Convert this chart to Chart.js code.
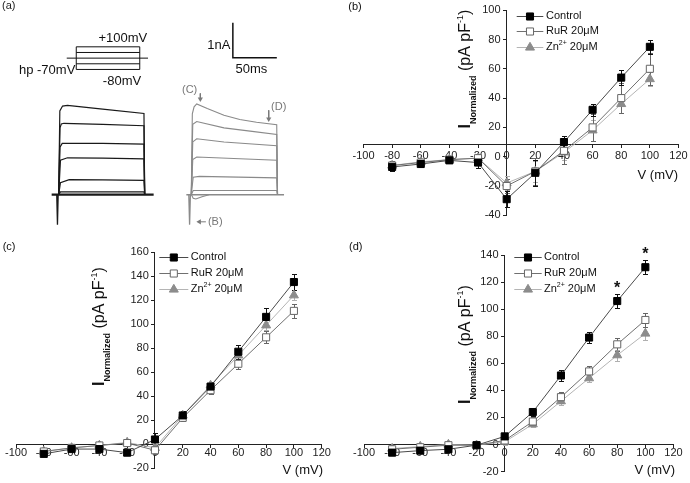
<!DOCTYPE html>
<html><head><meta charset="utf-8">
<script src="https://cdn.jsdelivr.net/npm/chart.js@4.4.0/dist/chart.umd.min.js"></script>
<style>
html,body{margin:0;padding:0;background:#fff;width:690px;height:483px;overflow:hidden}
canvas{position:absolute}
</style></head><body>
<canvas id="ca" width="345" height="240" style="left:0;top:0"></canvas>
<canvas id="cb" width="345" height="240" style="left:345px;top:0"></canvas>
<canvas id="cc" width="345" height="243" style="left:0;top:240px"></canvas>
<canvas id="cd" width="345" height="243" style="left:345px;top:240px"></canvas>
<script>
const FONT = "'Liberation Sans', Arial, sans-serif";

// ---------- I-V data ----------
const voltages = [-80, -60, -40, -20, 0, 20, 40, 60, 80, 100];
const seriesNames = ['Control', 'RuR 20\u03bcM', 'Zn'];
const znLabelParts = ['Zn', '2+', ' 20\u03bcM'];

const bControl = [-7, -5, -2.5, -4, -29, -11, 10, 32, 54, 75];
const bControlErr = [3, 2, 2, 3.5, 5.5, 9, 4, 4, 5, 5];
const bRuR = [-6, -4, -2, -1, -20, -10, 4, 20, 40, 60];
const bRuRErr = [3, 2, 2, 3, 5, 9, 9, 9, 10, 11];
const bZn = [-6, -3.5, -2, -1, -18, -10, 3, 18, 36, 53];
const bZnErr = [2, 2, 2, 2, 5, 7, 5, 7, 6, 5];

const cControl = [-8, -4, -4, -7, 4, 24, 48, 77, 106, 135];
const cControlErr = [2, 2, 2, 2, 5, 4, 4, 6, 7, 7];
const cRuR = [-6, -3, -1, 1, -5, 22, 45, 67, 89, 111];
const cRuRErr = [2, 2, 2, 2, 3, 3, 3, 4, 5, 6];
const cZn = [-6, -3, -1, 1.5, -3, 24, 49, 74, 99, 124];
const cZnErr = [2, 2, 2, 2, 3, 3, 3, 4, 4, 4];

const dControl = [-6, -4.5, -3.5, -0.5, 6, 24, 51, 79, 106, 131];
const dControlErr = [2, 2, 2, 1, 2, 3, 4, 4, 5, 5];
const dRuR = [-3.5, -2, -0.5, -0.5, 3, 17, 35, 54, 74, 92];
const dRuRErr = [2, 2, 2, 1, 2, 3, 4, 4, 5, 5];
const dZn = [-3, -1.5, 0, -0.5, 2, 15, 32, 49, 66, 82];
const dZnErr = [2, 2, 2, 1, 2, 2, 3, 3, 4, 4.5];
const dSignificant = [80, 100];

// ---------- panel (a) traces: [time ms, current nA] ----------
const leftTraces = [
  [[0,0],[1.3,2.38],[4.4,2.52],[10,2.54],[50,2.43],[97,2.31],[97.8,0]],
  [[0,0],[1.5,1.9],[3,2.01],[6,2.03],[50,2.0],[97,1.96],[97.8,0]],
  [[0,0],[1.5,1.35],[4,1.46],[50,1.46],[97,1.44],[97.8,0]],
  [[0,0],[2,0.98],[10,1.05],[50,1.04],[97,1.02],[97.8,0]],
  [[0,0],[2,0.34],[12,0.43],[50,0.42],[97,0.41],[97.8,0]],
  [[0,0],[2,0.08],[97,0.08],[97.8,0]]
];
const leftBaseline = [[-8,0],[108,0]];
const leftSpike = [[-2.2,0],[-1.4,-0.85],[-0.6,0]];
const rightTraces = [
  [[150.8,0],[152,2.3],[154,2.5],[157,2.58],[169,2.45],[188,2.26],[206,2.14],[225,2.06],[248,1.99],[248.9,0]],
  [[150.8,0],[152.5,2.0],[157,2.08],[188,1.9],[220,1.8],[248,1.71],[248.9,0]],
  [[150.8,0],[152.5,1.5],[157,1.59],[188,1.5],[248,1.39],[248.9,0]],
  [[150.8,0],[152.5,1.0],[157,1.07],[248,0.98],[248.9,0]],
  [[150.8,0],[153,0.5],[160,0.52],[248,0.48],[248.9,0]],
  [[150.8,0],[153,0.12],[248,0.12],[248.9,0]],
  [[151,0],[153,-0.1],[156,-0.12],[163,-0.06],[171,0]]
];
const rightBaseline = [[145.2,0],[256.3,0]];
const rightSpike = [[148,0],[148.9,-0.85],[149.8,0]];
const scaleBar = [[248.1,3.89],[198.1,3.89],[198.1,4.89]]; // 50 ms, 1 nA
const arrowC = [[161.1,2.88],[161.1,2.72]];
const arrowD = [[238.9,2.40],[238.9,2.15]];
const arrowB = [[167.4,-0.77],[160.0,-0.77]];

// voltage protocol (schematic): levels in mV, pulse in ms
const protocolLevels = [100, 55, 10, -35, -80];
const protocolPulse = [0, 100];
const holdingLevel = 10;
const holdingSpan = [-15, 113];

const toXY = arr => arr.map(p => ({x: p[0], y: p[1]}));

// ---------- Panel (a) ----------
function lineDs(pts, color, w, xa, ya) {
  return {data: toXY(pts), showLine: true, borderColor: color, borderWidth: w,
    pointRadius: 0, tension: 0, fill: false, xAxisID: xa || 'x', yAxisID: ya || 'y'};
}
function arrowDs(pts, rot) {
  return {data: toXY(pts), showLine: true, borderColor: '#7a7a7a', borderWidth: 1, tension: 0,
    pointRadius: [0, 3], pointStyle: 'triangle', pointRotation: rot,
    pointBackgroundColor: '#7a7a7a', pointBorderColor: '#7a7a7a', pointBorderWidth: 0};
}
const dsA = [];
dsA.push(lineDs(leftBaseline, '#1a1a1a', 2.2));
leftTraces.forEach(tr => dsA.push(lineDs(tr, '#1a1a1a', 1.2)));
dsA.push(lineDs(leftSpike, '#1a1a1a', 1.3));
dsA.push(lineDs(rightBaseline, '#8a8a8a', 1.6));
rightTraces.forEach(tr => dsA.push(lineDs(tr, '#8a8a8a', 1.1)));
dsA.push(lineDs(rightSpike, '#8a8a8a', 1.3));
dsA.push(lineDs(scaleBar, '#111', 1.5));
dsA.push(arrowDs(arrowC, 180));
dsA.push(arrowDs(arrowD, 180));
dsA.push(arrowDs(arrowB, 270));
protocolLevels.forEach(v => {
  if (v !== holdingLevel) dsA.push(lineDs([[protocolPulse[0], v], [protocolPulse[1], v]], '#111', 1, 'xp', 'yp'));
});
dsA.push(lineDs([[holdingSpan[0], holdingLevel], [holdingSpan[1], holdingLevel]], '#111', 1, 'xp', 'yp'));
const vTop = Math.max(...protocolLevels), vBot = Math.min(...protocolLevels);
protocolPulse.forEach(t => dsA.push(lineDs([[t, vBot], [t, vTop]], '#111', 1, 'xp', 'yp')));

const aTexts = [
  {s: '(a)', px: 2, py: 6.3, align: 'left', size: 11, color: '#222'},
  {s: '+100mV', sc: 'p', x: 73.4, y: 163.8, align: 'center', size: 13, color: '#111'},
  {s: '-80mV', sc: 'p', x: 72, y: -174.6, align: 'center', size: 13, color: '#111'},
  {s: 'hp -70mV', sc: 'p', x: -1.5, y: -88, align: 'right', size: 13, color: '#111'},
  {s: '1nA', x: 195.2, y: 4.25, align: 'right', size: 13, color: '#111'},
  {s: '50ms', x: 219.2, y: 3.57, align: 'center', size: 13, color: '#111'},
  {s: '(C)', x: 148.9, y: 2.97, align: 'center', size: 11, color: '#777'},
  {s: '(D)', x: 250.3, y: 2.48, align: 'center', size: 11, color: '#777'},
  {s: '(B)', x: 178.1, y: -0.77, align: 'center', size: 11, color: '#777'}
];
const aDeco = {
  id: 'aDeco',
  afterDraw(chart) {
    const ctx = chart.ctx, s = chart.scales;
    ctx.save();
    ctx.textBaseline = 'middle';
    aTexts.forEach(t => {
      let x, y;
      if (t.px !== undefined) { x = t.px; y = t.py; }
      else if (t.sc === 'p') { x = s.xp.getPixelForValue(t.x); y = s.yp.getPixelForValue(t.y); }
      else { x = s.x.getPixelForValue(t.x); y = s.y.getPixelForValue(t.y); }
      ctx.font = t.size + 'px ' + FONT;
      ctx.fillStyle = t.color;
      ctx.textAlign = t.align;
      ctx.fillText(t.s, x, y);
    });
    ctx.restore();
  }
};
new Chart(document.getElementById('ca'), {
  type: 'scatter',
  data: {datasets: dsA},
  options: {
    animation: false, responsive: false, events: [],
    layout: {padding: 0},
    plugins: {legend: {display: false}, tooltip: {enabled: false}},
    scales: {
      x: {type: 'linear', display: false, min: -62.2, max: 321.1},
      y: {type: 'linear', display: false, min: -1.173, max: 5.42},
      xp: {type: 'linear', axis: 'x', display: false, min: -113.8, max: 416.9},
      yp: {type: 'linear', axis: 'y', display: false, min: -1405.4, max: 440.8}
    }
  },
  plugins: [aDeco]
});

// ---------- I-V panels ----------
const seriesStyle = [
  {line: '#4a4a4a', fill: '#000', border: '#000', shape: 'rect', r: 5, err: '#111'},
  {line: '#707070', fill: '#fff', border: '#666', shape: 'rect', r: 5, err: '#666'},
  {line: '#b4b4b4', fill: '#8c8c8c', border: '#8c8c8c', shape: 'triangle', r: 5.2, err: '#b0b0b0'}
];

function drawMarker(ctx, st, x, y) {
  ctx.save();
  ctx.fillStyle = st.fill; ctx.strokeStyle = st.border; ctx.lineWidth = 1;
  ctx.beginPath();
  if (st.shape === 'rect') {
    const h = st.r * Math.SQRT1_2;
    ctx.rect(x - h, y - h, 2 * h, 2 * h);
  } else {
    const r = st.r;
    ctx.moveTo(x, y - r);
    ctx.lineTo(x + r * Math.sin(2 * Math.PI / 3), y - r * Math.cos(2 * Math.PI / 3));
    ctx.lineTo(x + r * Math.sin(4 * Math.PI / 3), y - r * Math.cos(4 * Math.PI / 3));
    ctx.closePath();
  }
  ctx.fill(); ctx.stroke();
  ctx.restore();
}

function drawYTitle(ctx, x, y) {
  ctx.save();
  ctx.translate(x, y);
  ctx.rotate(-Math.PI / 2);
  ctx.fillStyle = '#111';
  ctx.textAlign = 'left';
  ctx.textBaseline = 'alphabetic';
  let cx = 0;
  const seg = (s, font, dy) => { ctx.font = font; ctx.fillText(s, cx, dy); cx += ctx.measureText(s).width; };
  seg('I', 'bold 16px ' + FONT, 0);
  seg('Normalized', 'bold 9px ' + FONT, 6);
  seg(' (pA pF', '16px ' + FONT, 0);
  seg('-1', '9px ' + FONT, -7);
  seg(')', '16px ' + FONT, 0);
  ctx.restore();
}

const ivDeco = {
  id: 'ivDeco',
  beforeDatasetsDraw(chart, args, o) {
    const ctx = chart.ctx, xs = chart.scales.x, ys = chart.scales.y;
    ctx.save();
    for (let di = chart.data.datasets.length - 1; di >= 0; di--) {
      const ds = chart.data.datasets[di];
      const errs = o.errors[di];
      ctx.strokeStyle = seriesStyle[di].err; ctx.lineWidth = 1;
      ds.data.forEach((p, i) => {
        const x = Math.round(xs.getPixelForValue(p.x)) + 0.5;
        const yt = Math.round(ys.getPixelForValue(p.y + errs[i])) + 0.5;
        const yb = Math.round(ys.getPixelForValue(p.y - errs[i])) + 0.5;
        ctx.beginPath();
        ctx.moveTo(x, yt); ctx.lineTo(x, yb);
        ctx.moveTo(x - 2.5, yt); ctx.lineTo(x + 2.5, yt);
        ctx.moveTo(x - 2.5, yb); ctx.lineTo(x + 2.5, yb);
        ctx.stroke();
      });
    }
    ctx.restore();
  },
  afterDraw(chart, args, o) {
    const ctx = chart.ctx, xs = chart.scales.x, ys = chart.scales.y;
    ctx.save();
    // legend
    const L = o.legend;
    seriesNames.forEach((name, i) => {
      const y = L.y0 + i * L.dy;
      const st = seriesStyle[i];
      ctx.strokeStyle = st.line; ctx.lineWidth = 1;
      ctx.beginPath(); ctx.moveTo(L.x1, Math.round(y) + 0.5); ctx.lineTo(L.x2, Math.round(y) + 0.5); ctx.stroke();
      drawMarker(ctx, st, (L.x1 + L.x2) / 2, Math.round(y) + 0.5);
      ctx.fillStyle = '#111'; ctx.textBaseline = 'middle'; ctx.textAlign = 'left';
      ctx.font = '11px ' + FONT;
      if (i === 2) {
        let cx = L.tx;
        ctx.fillText(znLabelParts[0], cx, y); cx += ctx.measureText(znLabelParts[0]).width;
        ctx.font = '7px ' + FONT;
        ctx.fillText(znLabelParts[1], cx, y - 4); cx += ctx.measureText(znLabelParts[1]).width;
        ctx.font = '11px ' + FONT;
        ctx.fillText(znLabelParts[2], cx, y);
      } else {
        ctx.fillText(name, L.tx, y);
      }
    });
    // axis titles
    drawYTitle(ctx, o.ytitle.x, o.ytitle.y);
    ctx.fillStyle = '#111'; ctx.font = '13px ' + FONT; ctx.textAlign = 'right'; ctx.textBaseline = 'middle';
    ctx.fillText('V (mV)', o.xtitle.x, o.xtitle.y);
    // panel label
    ctx.font = '11px ' + FONT; ctx.textAlign = 'left';
    ctx.fillText(o.label.s, o.label.x, o.label.y);
    // significance
    if (o.stars) {
      ctx.font = 'bold 16px ' + FONT; ctx.textAlign = 'center';
      o.stars.forEach(v => {
        const i = voltages.indexOf(v);
        const top = chart.data.datasets[0].data[i].y + o.errors[0][i];
        ctx.fillText('*', xs.getPixelForValue(v), ys.getPixelForValue(top) - 6);
      });
    }
    ctx.restore();
  }
};

function ivChart(p) {
  const datasets = p.series.map((vals, i) => {
    const st = seriesStyle[i];
    return {
      label: seriesNames[i],
      data: voltages.map((v, k) => ({x: v, y: vals[k]})),
      showLine: true, tension: 0, borderColor: st.line, borderWidth: 1,
      pointStyle: st.shape, pointRadius: st.r, pointBackgroundColor: st.fill,
      pointBorderColor: st.border, pointBorderWidth: 1
    };
  });
  const axisCommon = {
    grid: {display: true, drawOnChartArea: false, drawTicks: true, tickLength: 3, color: '#222', lineWidth: 1},
    border: {display: true, color: '#222', width: 1}
  };
  new Chart(document.getElementById(p.canvas), {
    type: 'scatter',
    data: {datasets},
    options: {
      animation: false, responsive: false, events: [],
      layout: {padding: p.pad},
      plugins: {legend: {display: false}, tooltip: {enabled: false},
        ivDeco: {errors: p.errors, legend: p.legend, ytitle: p.ytitle, xtitle: p.xtitle, label: p.label, stars: p.stars}},
      scales: {
        x: Object.assign({type: 'linear', min: -100, max: 120, position: {y: p.xAxisAt},
          ticks: {stepSize: 20, autoSkip: false, maxRotation: 0, padding: p.xLabelPad, color: '#222', font: {family: FONT, size: 11}}}, axisCommon),
        y: Object.assign({type: 'linear', min: p.ymin, max: p.ymax, position: {x: 0},
          ticks: {stepSize: 20, autoSkip: false, color: '#222', font: {family: FONT, size: 11}, callback: v => v + '  '}}, axisCommon)
      }
    },
    plugins: [ivDeco]
  });
}

ivChart({canvas: 'cb', ymin: -40, ymax: 100, xAxisAt: 8, xLabelPad: 1,
  pad: {left: 18.5, right: 11.5, top: 10.2, bottom: 24.7},
  series: [bControl, bRuR, bZn], errors: [bControlErr, bRuRErr, bZnErr],
  legend: {x1: 171.7, x2: 198.3, tx: 201, y0: 15.7, dy: 15.5},
  ytitle: {x: 125, y: 128.5}, xtitle: {x: 333, y: 175}, label: {s: '(b)', x: 3.3, y: 6.7}, stars: null});

ivChart({canvas: 'cc', ymin: -20, ymax: 160, xAxisAt: 0, xLabelPad: -1,
  pad: {left: 16, right: 23.3, top: 12, bottom: 14.7},
  series: [cControl, cRuR, cZn], errors: [cControlErr, cRuRErr, cZnErr],
  legend: {x1: 159.3, x2: 188.3, tx: 190.7, y0: 17.3, dy: 16},
  ytitle: {x: 104, y: 146}, xtitle: {x: 323, y: 230}, label: {s: '(c)', x: 2.7, y: 6.7}, stars: null});

ivChart({canvas: 'cd', ymin: -20, ymax: 140, xAxisAt: 0, xLabelPad: -1,
  pad: {left: 19, right: 16.5, top: 15, bottom: 11.4},
  series: [dControl, dRuR, dZn], errors: [dControlErr, dRuRErr, dZnErr],
  legend: {x1: 169.3, x2: 196.7, tx: 199, y0: 17.3, dy: 15.8},
  ytitle: {x: 125, y: 164}, xtitle: {x: 330, y: 230}, label: {s: '(d)', x: 4, y: 6.7}, stars: dSignificant});
</script>
</body></html>
